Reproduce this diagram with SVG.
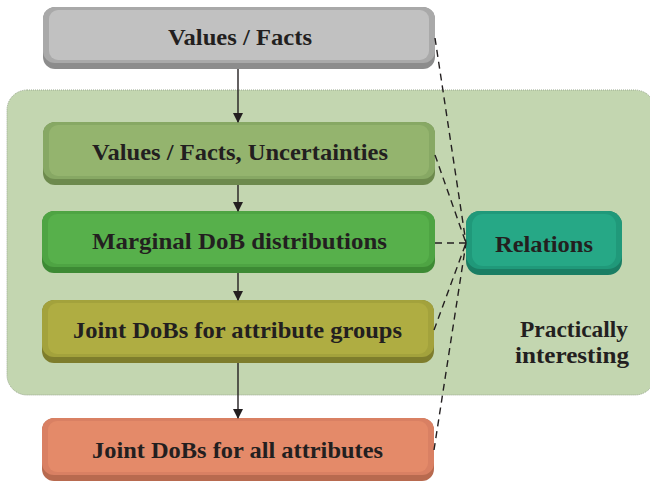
<svg xmlns="http://www.w3.org/2000/svg" width="650" height="481" viewBox="0 0 650 481">
<defs>
<style>
.t{font-family:"Liberation Serif","Times New Roman",serif;font-weight:bold;font-size:23px;fill:#231f20;text-anchor:middle}
.dash{fill:none;stroke:#231f20;stroke-width:1.4;stroke-dasharray:7,5}
.arr{fill:none;stroke:#231f20;stroke-width:1.4;marker-end:url(#ah)}
</style>
<marker id="ah" markerWidth="10" markerHeight="10" refX="9" refY="5" orient="auto" markerUnits="userSpaceOnUse">
<path d="M0,0 L10,5 L0,10 Z" fill="#231f20"/>
</marker>
</defs>
<rect width="650" height="481" fill="#ffffff"/>
<g id="region">
<rect x="7" y="90" width="648" height="305" rx="20" fill="#c3d6b0" stroke="#9aa890" stroke-width="1" stroke-dasharray="1,1"/>
<text class="t" x="574" y="337" textLength="108" lengthAdjust="spacingAndGlyphs">Practically</text>
<text class="t" x="572" y="363" textLength="114" lengthAdjust="spacingAndGlyphs">interesting</text>
</g>
<g id="n1">
<rect x="43" y="7" width="392" height="62" rx="12" fill="#8c8c8c"/>
<rect x="43" y="7" width="392" height="56" rx="12" fill="#a9a9a9"/>
<rect x="49" y="10" width="380" height="50" rx="9" fill="#c1c1c1"/>
<text class="t" x="240" y="45" textLength="144" lengthAdjust="spacingAndGlyphs">Values / Facts</text>
</g>
<g id="n2">
<rect x="43" y="122" width="392" height="63" rx="12" fill="#6d8a4d"/>
<rect x="43" y="122" width="392" height="57" rx="12" fill="#87a864"/>
<rect x="49" y="125" width="380" height="51" rx="9" fill="#94b46e"/>
<text class="t" x="240" y="160" textLength="296" lengthAdjust="spacingAndGlyphs">Values / Facts, Uncertainties</text>
</g>
<g id="n3">
<rect x="42" y="211" width="393" height="62" rx="12" fill="#3d8a34"/>
<rect x="42" y="211" width="393" height="56" rx="12" fill="#4ea443"/>
<rect x="48" y="214" width="381" height="50" rx="9" fill="#57b04b"/>
<text class="t" x="239.5" y="249" textLength="295" lengthAdjust="spacingAndGlyphs">Marginal DoB distributions</text>
</g>
<g id="n4">
<rect x="42" y="300" width="392" height="63" rx="12" fill="#7e7d2c"/>
<rect x="42" y="300" width="392" height="57" rx="12" fill="#a3a23c"/>
<rect x="48" y="303" width="380" height="51" rx="9" fill="#afad42"/>
<text class="t" x="237.5" y="338" textLength="329" lengthAdjust="spacingAndGlyphs">Joint DoBs for attribute groups</text>
</g>
<g id="n5">
<rect x="42" y="418" width="392" height="63" rx="12" fill="#b86a4f"/>
<rect x="42" y="418" width="392" height="57" rx="12" fill="#d98063"/>
<rect x="48" y="421" width="380" height="51" rx="9" fill="#e48a69"/>
<text class="t" x="237.5" y="458" textLength="291" lengthAdjust="spacingAndGlyphs">Joint DoBs for all attributes</text>
</g>
<g id="relations">
<rect x="466" y="211" width="156" height="64" rx="14" fill="#1a7e64"/>
<rect x="466" y="211" width="156" height="58" rx="14" fill="#20997a"/>
<rect x="472" y="214" width="144" height="52" rx="11" fill="#26a886"/>
<text class="t" x="544" y="252" textLength="98" lengthAdjust="spacingAndGlyphs">Relations</text>
</g>
<g id="connectors">
<line class="arr" x1="238" y1="69" x2="238" y2="122"/>
<line class="arr" x1="238" y1="185" x2="238" y2="211"/>
<line class="arr" x1="238" y1="273" x2="238" y2="300"/>
<line class="arr" x1="238" y1="363" x2="238" y2="418"/>
<path class="dash" d="M435,38 L466,243"/>
<path class="dash" d="M435,155 L466,243"/>
<path class="dash" d="M435,243 L466,243"/>
<path class="dash" d="M434,330 L466,243"/>
<path class="dash" d="M434,450 L466,243"/>
</g>
</svg>
